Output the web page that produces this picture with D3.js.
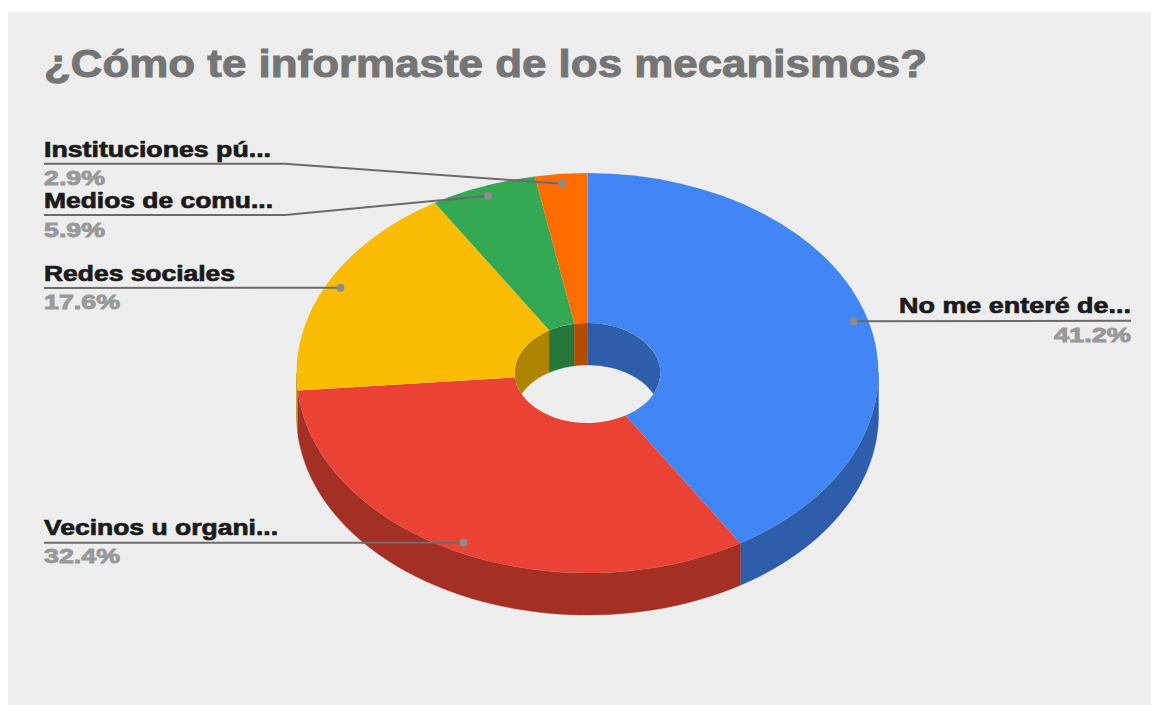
<!DOCTYPE html>
<html><head><meta charset="utf-8">
<script src="https://cdnjs.cloudflare.com/ajax/libs/d3/7.8.5/d3.min.js"></script>
<style>html,body{margin:0;background:#fff}svg{display:block}text{font-family:"Liberation Sans",Arial,sans-serif;font-weight:700}</style>
</head><body><div id="chart"></div>
<script>
const titleText = "¿Cómo te informaste de los mecanismos?";
const categories = ["No me enteré de...", "Vecinos u organi...", "Redes sociales", "Medios de comu...", "Instituciones pú..."];
const values = [41.2, 32.4, 17.6, 5.9, 2.9];
const colors = ["#4285f4", "#ea4335", "#fbbc04", "#34a853", "#ff6d01"];

// layout of the callouts, in slice order
const underlineY = [320.7, 542.7, 288, 215, 163.7];
const elbowX = [null, null, null, 285, 285];
const nameBase = [312.7, 535, 281, 208.3, 157];
const pctBase = [341.7, 563, 309, 236.5, 184.5];
const nameWidth = [232, 234, 191, 229, 227];
const pctWidth = [77, 76, 76, 61, 61];

const W = 1151, H = 705, cx = 587.5, cy = 373, rx = 291, ry = 200, depth = 42, holeRatio = 0.25;
const svg = d3.select("#chart").append("svg").attr("width", W).attr("height", H);
svg.append("rect").attr("x", 8).attr("y", 12).attr("width", W - 8).attr("height", H - 12).attr("fill", "#eeeeee");

const pie = d3.pie().sort(null).value(d => d)(values);
const dark = c => { const k = d3.rgb(c); return d3.rgb(k.r * .7, k.g * .7, k.b * .7).formatHex(); };
const pt = (t, k, dy = 0) => [cx + rx * k * Math.sin(t), cy - ry * k * Math.cos(t) + dy];
const line = d3.line();
const band = (a, b, k) => {
  const s = d3.range(0, 61).map(i => a + (b - a) * i / 60);
  return line(s.map(t => pt(t, k)).concat(s.slice().reverse().map(t => pt(t, k, depth)))) + "Z";
};
const T = 2 * Math.PI;

// outer wall: front half only, angles PI/2 .. 3PI/2
const wall = svg.append("g");
pie.forEach((p, i) => {
  const a = Math.max(p.startAngle, Math.PI / 2), b = Math.min(p.endAngle, 3 * Math.PI / 2);
  if (b > a) wall.append("path").attr("d", band(a, b, 1)).attr("fill", dark(colors[i])).attr("stroke", dark(colors[i])).attr("stroke-width", .4);
});

// top face
const arc = d3.arc().innerRadius(holeRatio).outerRadius(1);
svg.append("g").attr("transform", `translate(${cx},${cy}) scale(${rx},${ry})`)
  .selectAll("path").data(pie).join("path").attr("d", arc).attr("fill", (d, i) => colors[i]);

// inner wall of the hole: rear half, clipped to the hole
svg.append("clipPath").attr("id", "hole").append("ellipse")
  .attr("cx", cx).attr("cy", cy).attr("rx", rx * holeRatio).attr("ry", ry * holeRatio);
const inner = svg.append("g").attr("clip-path", "url(#hole)");
pie.forEach((p, i) => {
  [[0, Math.PI / 2], [3 * Math.PI / 2, T]].forEach(([lo, hi]) => {
    const a = Math.max(p.startAngle, lo), b = Math.min(p.endAngle, hi);
    if (b > a) inner.append("path").attr("d", band(a, b, holeRatio)).attr("fill", dark(colors[i])).attr("stroke", dark(colors[i])).attr("stroke-width", .4);
  });
});

// title
const fit = (sel, w) => sel.attr("textLength", w).attr("lengthAdjust", "spacingAndGlyphs");
svg.append("text").attr("x", 44).attr("y", 77).attr("font-size", 39).attr("fill", "#757575")
  .attr("stroke", "#757575").attr("stroke-width", 1).text(titleText).call(fit, 883);

// callouts
pie.forEach((p, i) => {
  const mid = (p.startAngle + p.endAngle) / 2, [dx, dy] = pt(mid, .95), right = Math.sin(mid) > 0;
  const edge = right ? 1131 : 44, y = underlineY[i];
  const pts = elbowX[i] == null ? [[edge, y], [dx, dy]] : [[edge, y], [elbowX[i], y], [dx, dy]];
  svg.append("path").attr("d", line(pts)).attr("fill", "none").attr("stroke", "#6b6b6b").attr("stroke-width", 2);
  svg.append("circle").attr("cx", dx).attr("cy", dy).attr("r", 4).attr("fill", "#8c8c8c");
  const anchor = right ? "end" : "start";
  svg.append("text").attr("x", edge).attr("y", nameBase[i]).attr("text-anchor", anchor).attr("font-size", 21.5)
    .attr("fill", "#1a1a1a").attr("stroke", "#1a1a1a").attr("stroke-width", .7).text(categories[i]).call(fit, nameWidth[i]);
  svg.append("text").attr("x", edge).attr("y", pctBase[i]).attr("text-anchor", anchor).attr("font-size", 20.5)
    .attr("fill", "#999999").attr("stroke", "#999999").attr("stroke-width", .9).text(values[i].toFixed(1) + "%").call(fit, pctWidth[i]);
});
</script></body></html>
